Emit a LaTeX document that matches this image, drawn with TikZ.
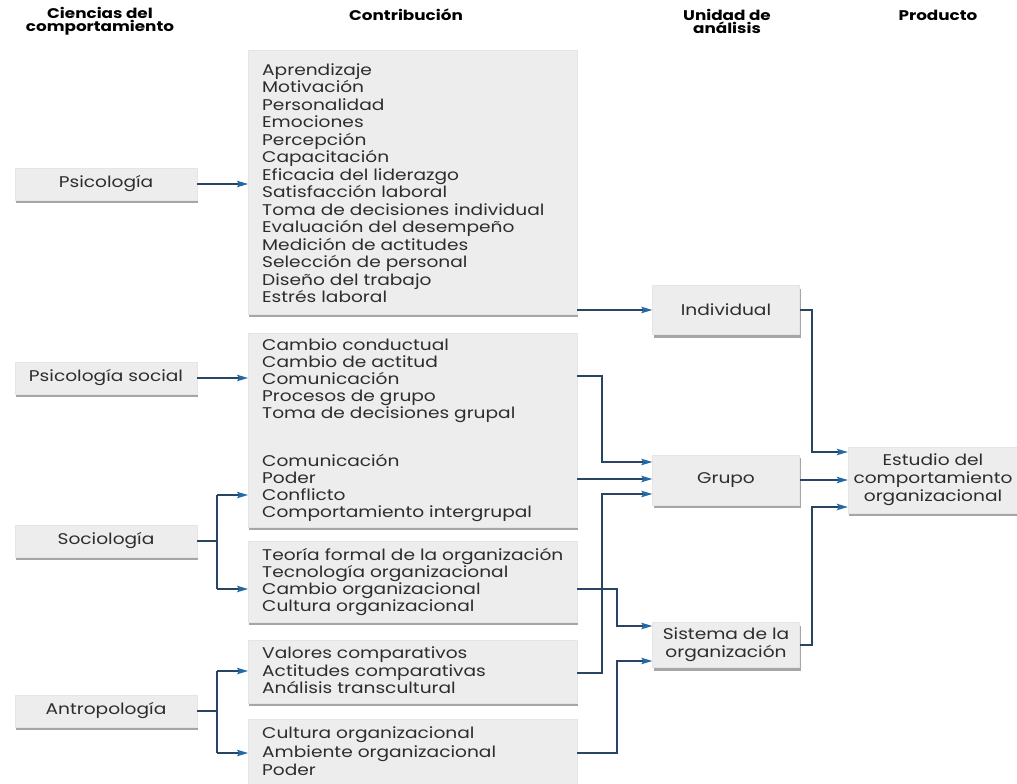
\documentclass[tikz,border=0pt]{standalone}
\usepackage{fontspec}
\setmainfont{Poppins}[FakeStretch=1.2]
\usetikzlibrary{arrows.meta,shadows}
\definecolor{ln}{RGB}{40,70,100}
\definecolor{arw}{RGB}{35,105,165}
\definecolor{txt}{RGB}{45,45,45}
\definecolor{boxf}{RGB}{237,237,237}
\tikzset{
  anybox/.style={fill=boxf, draw=black!10, line width=0.4pt,
    drop shadow={shadow xshift=1.2pt, shadow yshift=-3pt, opacity=0.35, fill=black}},
  lbox/.style={anybox, minimum width=182, minimum height=32, inner sep=0pt,
    text=txt, font=\fontsize{15.5}{17.5}\selectfont},
  cbox/.style={anybox, anchor=north west, minimum width=329, inner sep=0pt},
  ubox/.style={anybox, minimum width=147, inner sep=0pt, align=center,
    text=txt, font=\fontsize{15.5}{18}\selectfont},
  item/.style={anchor=base west, inner sep=0pt, text=txt,
    font=\fontsize{15.5}{17.5}\selectfont},
  hd/.style={align=center, inner sep=0pt, text=black,
    font=\bfseries\fontsize{14}{13.5}\selectfont},
  wire/.style={draw=ln, line width=1.2pt},
  conn/.style={wire, -{Stealth[length=11pt,width=6.5pt,inset=2pt,color=arw]}}
}
\begin{document}
\begin{tikzpicture}[x=1pt,y=-1pt]
\useasboundingbox (0,0) rectangle (1017,784);
% headers
\node[hd] (h1) at (100,21.5) {Ciencias del\\comportamiento};
\node[hd] (h2) at (406,15) {Contribución};
\node[hd] (h3) at (727,21.5) {Unidad de\\análisis};
\node[hd] (h4) at (938,15) {Producto};
% left boxes
\node[lbox] (psi)  at (106,184) {Psicología};
\node[lbox] (psis) at (106,378) {Psicología social};
\node[lbox] (soc)  at (106,541) {Sociología};
\node[lbox] (ant)  at (106,711) {Antropología};
% contribution boxes
\node[cbox, minimum height=264] (A) at (248,50) {};
\node[cbox, minimum height=194] (B) at (248,333) {};
\node[cbox, minimum height=81]  (C) at (248,541) {};
\node[cbox, minimum height=63]  (D) at (248,640) {};
\node[cbox, minimum height=80]  (E) at (248,719) {};
\foreach \t [count=\i] in {Aprendizaje,Motivación,Personalidad,Emociones,Percepción,
  Capacitación,Eficacia del liderazgo,Satisfacción laboral,
  Toma de decisiones individual,Evaluación del desempeño,Medición de actitudes,
  Selección de personal,Diseño del trabajo,Estrés laboral}
  \node[item] (a\i) at (262,57.5+17.5*\i) {\t};
\foreach \t [count=\i] in {Cambio conductual,Cambio de actitud,Comunicación,
  Procesos de grupo,Toma de decisiones grupal}
  \node[item] (b\i) at (262,333+17*\i) {\t};
\foreach \t [count=\i] in {Comunicación,Poder,Conflicto,Comportamiento intergrupal}
  \node[item] (bb\i) at (262,449+17*\i) {\t};
\foreach \t [count=\i] in {Teoría formal de la organización,Tecnología organizacional,
  Cambio organizacional,Cultura organizacional}
  \node[item] (c\i) at (262,543+17*\i) {\t};
\foreach \t [count=\i] in {Valores comparativos,Actitudes comparativas,Análisis transcultural}
  \node[item] (d\i) at (262,641+17.5*\i) {\t};
\foreach \t [count=\i] in {Cultura organizacional,Ambiente organizacional,Poder}
  \node[item] (e\i) at (262,720+18.5*\i) {\t};
% unit boxes
\node[ubox, minimum height=49] (ind) at (726,310) {Individual};
\node[ubox, minimum height=50] (gru) at (726,480) {Grupo};
\node[ubox, minimum height=45] (sis) at (726,645) {Sistema de la\\organización};
\node[ubox, minimum width=170, minimum height=66] (est) at (933,480)
  {Estudio del\\comportamiento\\organizacional};
% junction points
\coordinate (sj) at (217,541);
\coordinate (aj) at (217,711);
% left connectors
\draw[conn] (psi.east) -- (psi.east -| A.west);
\draw[conn] (psis.east) -- (psis.east -| B.west);
\draw[wire] (soc.east) -- (sj);
\draw[wire] (sj |- 0,495) -- (sj |- 0,589);
\draw[conn] (sj |- 0,495) -- (B.west |- 0,495);
\draw[conn] (sj |- 0,589) -- (C.west |- 0,589);
\draw[wire] (ant.east) -- (aj);
\draw[wire] (aj |- 0,671) -- (aj |- 0,753);
\draw[conn] (aj |- 0,671) -- (D.west |- 0,671);
\draw[conn] (aj |- 0,753) -- (E.west |- 0,753);
% middle connectors
\draw[conn] (A.east |- ind.west) -- (ind.west);
\draw[conn] (B.east |- 0,376) -- (602,376) -- (602,462) -- (gru.west |- 0,462);
\draw[conn] (B.east |- 0,479) -- (gru.west |- 0,479);
\draw[conn] (D.east |- 0,673) -- (602,673) -- (602,494) -- (gru.west |- 0,494);
\draw[conn] (C.east |- 0,589) -- (617,589) -- (617,626) -- (sis.west |- 0,626);
\draw[conn] (E.east |- 0,753) -- (617,753) -- (617,661) -- (sis.west |- 0,661);
% right connectors
\draw[conn] (ind.east) -- (812,310) -- (812,452) -- (est.west |- 0,452);
\draw[conn] (gru.east) -- (est.west |- gru.east);
\draw[conn] (sis.east) -- (812,645) -- (812,507) -- (est.west |- 0,507);
\end{tikzpicture}
\end{document}
